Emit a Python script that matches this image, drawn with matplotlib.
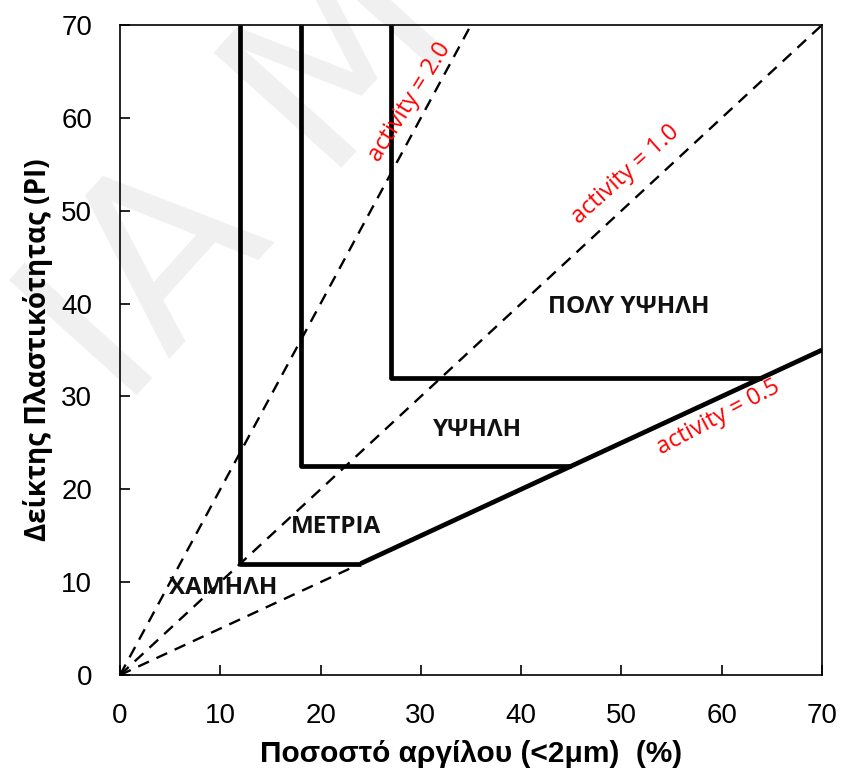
import matplotlib
matplotlib.use("Agg")
import matplotlib.pyplot as plt

# boundaries of activity classes (clay fraction %, PI)
low_x = [12, 12, 24]
low_y = [70, 12, 12]
med_x = [18, 18, 45]
med_y = [70, 22.5, 22.5]
high_x = [27, 27, 64]
high_y = [70, 32, 32]
a05_solid_x = [24, 70]
a05_solid_y = [12, 35]

# activity reference lines from origin
act_names = ["activity = 2.0", "activity = 1.0", "activity = 0.5"]
act_x = [[0, 35], [0, 70], [0, 24]]
act_y = [[0, 70], [0, 70], [0, 12]]

zones = ["ΧΑΜΗΛΗ", "ΜΕΤΡΙΑ", "ΥΨΗΛΗ", "ΠΟΛΥ ΥΨΗΛΗ"]
zone_x = [10.3, 21.5, 35.7, 50.7]
zone_y = [9.4, 15.9, 26.4, 39.6]

ticks = [0, 10, 20, 30, 40, 50, 60, 70]

fig = plt.figure(figsize=(8.41, 7.77), dpi=100)
ax = fig.add_axes([0.1427, 0.1313, 0.8347, 0.8365])

# faint watermark, behind everything
ax.text(0.29, 0.77, "ΙΑ Μ", fontsize=170, color="#f0f0f0", rotation=48,
        ha="center", va="center", family="DejaVu Sans", transform=fig.transFigure,
        zorder=0, clip_on=False)

for xs, ys in zip(act_x, act_y):
    ax.plot(xs, ys, color="black", lw=1.7, ls=(0, (5, 3.5)), zorder=2)

for xs, ys in [(low_x, low_y), (med_x, med_y), (high_x, high_y), (a05_solid_x, a05_solid_y)]:
    ax.plot(xs, ys, color="black", lw=3.4, solid_capstyle="butt", zorder=3)

# activity labels
lab_pos = [(28.9, 61.7, 58), (50.4, 53.9, 42), (59.7, 27.7, 28)]
for name, (x, y, r) in zip(act_names, lab_pos):
    ax.text(x, y, name, color="red", fontsize=17, rotation=r, rotation_mode="anchor",
            ha="center", va="center", family="Open Sans", zorder=4)

for name, x, y in zip(zones, zone_x, zone_y):
    ax.text(x, y, name, fontsize=17.5, fontweight="bold", ha="center", va="center",
            family="Open Sans", color="#111111", zorder=4)

ax.set_xlim(0, 70)
ax.set_ylim(0, 70)
ax.set_xticks(ticks)
ax.set_yticks(ticks)
ax.tick_params(direction="in", length=7, width=1.2, labelsize=20, pad=20)
for lbl in ax.get_xticklabels() + ax.get_yticklabels():
    lbl.set_family("Liberation Sans")
for s in ax.spines.values():
    s.set_linewidth(1.2)

ax.set_xlabel("Ποσοστό αργίλου (<2μm)  (%)", fontsize=21.5, fontweight="bold",
              family="Liberation Sans", labelpad=8)
ax.set_ylabel("Δείκτης Πλαστικότητας (PI)", fontsize=20, fontweight="bold",
              family="Open Sans", labelpad=6)

fig.savefig("out.png", dpi=100)
